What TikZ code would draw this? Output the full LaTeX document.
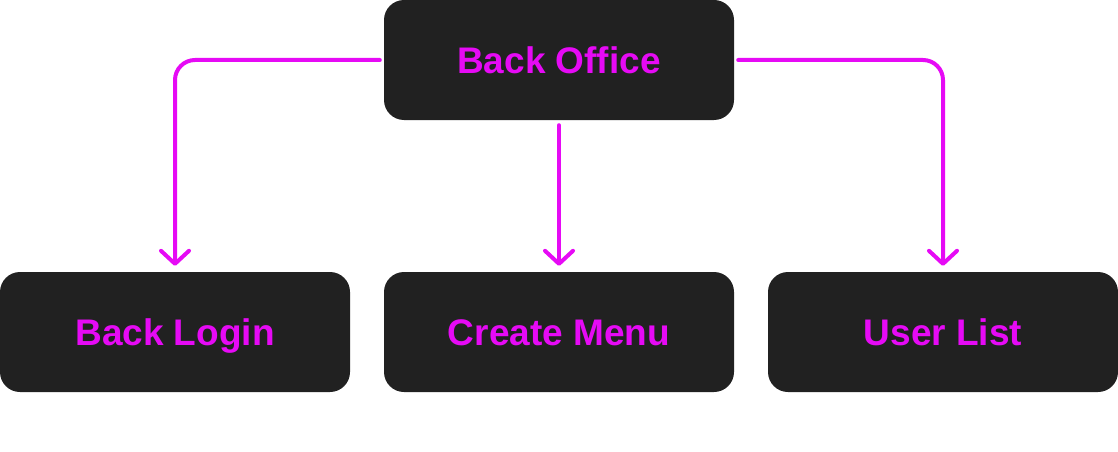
\documentclass[tikz,border=0pt]{standalone}
\usepackage{fontspec}
\setmainfont{Liberation Sans}
\usetikzlibrary{arrows.meta}
\usetikzlibrary{positioning}
\definecolor{boxgray}{RGB}{33,33,33}
\definecolor{linkpink}{RGB}{230,10,245}
\tikzset{
    page/.style={rectangle, fill=boxgray, rounded corners=20pt, minimum width=350pt,
        minimum height=120pt, text=linkpink, text height=26.5pt, text depth=0pt,
        font=\fontsize{37}{40}\selectfont\bfseries},
    link/.style={draw=linkpink, line width=4pt, line cap=round, rounded corners=20pt,
        -{Straight Barb[length=13pt,width=28pt,round]}}
}

\begin{document}
\begin{tikzpicture}[x=1pt, y=-1pt]
    \useasboundingbox (0,0) rectangle (1118,452);

    \node[page] (office) at (559,60) {Back Office};
    \node[page] (login) at (175,332) {Back Login};
    \node[page] (menu) at (559,332) {Create Menu};
    \node[page] (users) at (943,332) {User List};

    \draw[link, shorten <=4pt, shorten >=6pt] (office.west) -| (login.north);
    \draw[link, shorten <=5pt, shorten >=6pt] (office.south) -- (menu.north);
    \draw[link, shorten <=4pt, shorten >=6pt] (office.east) -| (users.north);
\end{tikzpicture}
\end{document}
